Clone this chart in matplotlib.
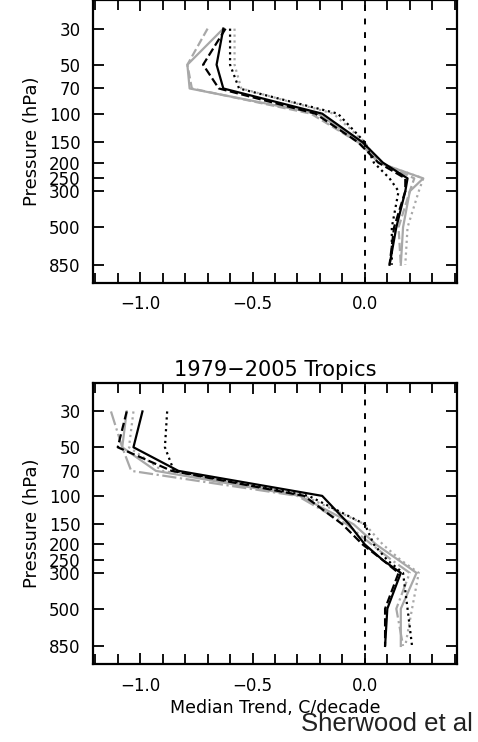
import numpy as np
import matplotlib
matplotlib.use("Agg")
import matplotlib.pyplot as plt
from matplotlib.ticker import FixedLocator, NullLocator, MultipleLocator

levels = [30, 50, 70, 100, 150, 200, 250, 300, 500, 850]
level_labels = ["30", "50", "70", "100", "150", "200", "250", "300", "500", "850"]

# top panel trends (C/decade)
top_black_solid = [-0.63, -0.66, -0.63, -0.19, -0.01, 0.08, 0.19, 0.18, 0.14, 0.11]
top_black_dash = [-0.62, -0.72, -0.65, -0.22, -0.03, 0.06, 0.18, 0.18, 0.13, 0.11]
top_black_dot = [-0.60, -0.60, -0.56, -0.12, 0.00, 0.04, 0.11, 0.15, 0.12, 0.12]
top_gray_solid = [-0.63, -0.79, -0.78, -0.21, -0.02, 0.06, 0.26, 0.20, 0.17, 0.16]
top_gray_dash = [-0.70, -0.79, -0.77, -0.24, -0.03, 0.07, 0.22, 0.20, 0.15, 0.16]
top_gray_dot = [-0.58, -0.58, -0.55, -0.14, 0.00, 0.06, 0.26, 0.24, 0.19, 0.18]

# bottom panel: 1979-2005 Tropics
bot_black_solid = [-0.99, -1.03, -0.83, -0.19, -0.07, 0.00, 0.08, 0.16, 0.10, 0.09]
bot_black_dash = [-1.06, -1.10, -0.86, -0.27, -0.10, -0.01, 0.08, 0.15, 0.09, 0.09]
bot_black_dot = [-0.88, -0.89, -0.85, -0.25, 0.00, 0.04, 0.10, 0.17, 0.19, 0.21]
bot_gray_solid = [-1.06, -1.08, -0.93, -0.29, -0.05, 0.05, 0.15, 0.23, 0.16, 0.16]
bot_gray_dash = [-1.13, -1.08, -1.04, -0.30, -0.08, 0.03, 0.12, 0.20, 0.14, 0.17]
bot_gray_dot = [-1.03, -1.05, -0.90, -0.27, 0.00, 0.08, 0.16, 0.24, 0.21, 0.18]

GRAY = "#a8a8a8"

fig = plt.figure(figsize=(4.78, 7.42), dpi=100)
ax1 = fig.add_axes([0.1946, 0.6186, 0.7614, 0.3814])
ax2 = fig.add_axes([0.1946, 0.1051, 0.7614, 0.3787])


def draw(ax, series):
    for vals, color, ls in series:
        ax.plot(vals, levels, color=color, linestyle=ls, linewidth=1.6)
    ax.axvline(0.0, color="black", linestyle=(0, (3, 4)), linewidth=1.4)
    ax.set_yscale("log")
    ax.set_ylim(1100, 20)
    ax.set_xlim(-1.21, 0.41)
    ax.yaxis.set_major_locator(FixedLocator(levels))
    ax.yaxis.set_minor_locator(NullLocator())
    ax.set_yticklabels(level_labels)
    ax.xaxis.set_major_locator(FixedLocator([-1.0, -0.5, 0.0]))
    ax.xaxis.set_minor_locator(MultipleLocator(0.1))
    ax.set_xticklabels(["\u22121.0", "\u22120.5", "0.0"])
    ax.tick_params(which="both", direction="in", top=True, right=True,
                   labelsize=12, width=1.3, pad=9)
    ax.tick_params(which="major", length=8)
    ax.tick_params(which="minor", length=7)
    for s in ax.spines.values():
        s.set_linewidth(1.6)
    ax.set_ylabel("Pressure (hPa)", fontsize=13, labelpad=6)


draw(ax1, [
    (top_gray_solid, GRAY, "-"),
    (top_gray_dash, GRAY, "--"),
    (top_gray_dot, GRAY, ":"),
    (top_black_dot, "black", ":"),
    (top_black_dash, "black", "--"),
    (top_black_solid, "black", "-"),
])

draw(ax2, [
    (bot_gray_solid, GRAY, "-"),
    (bot_gray_dash, GRAY, "-."),
    (bot_gray_dot, GRAY, ":"),
    (bot_black_dot, "black", ":"),
    (bot_black_dash, "black", "--"),
    (bot_black_solid, "black", "-"),
])

ax2.set_title("1979\u22122005 Tropics", fontsize=15, pad=5)
ax2.set_xlabel("Median Trend, C/decade", fontsize=12.5, labelpad=3)

fig.text(0.99, 0.024, "Sherwood et al", fontsize=18.5, family="Liberation Sans",
         ha="right", va="center", color="#222222")

fig.savefig("out.png", dpi=100)
